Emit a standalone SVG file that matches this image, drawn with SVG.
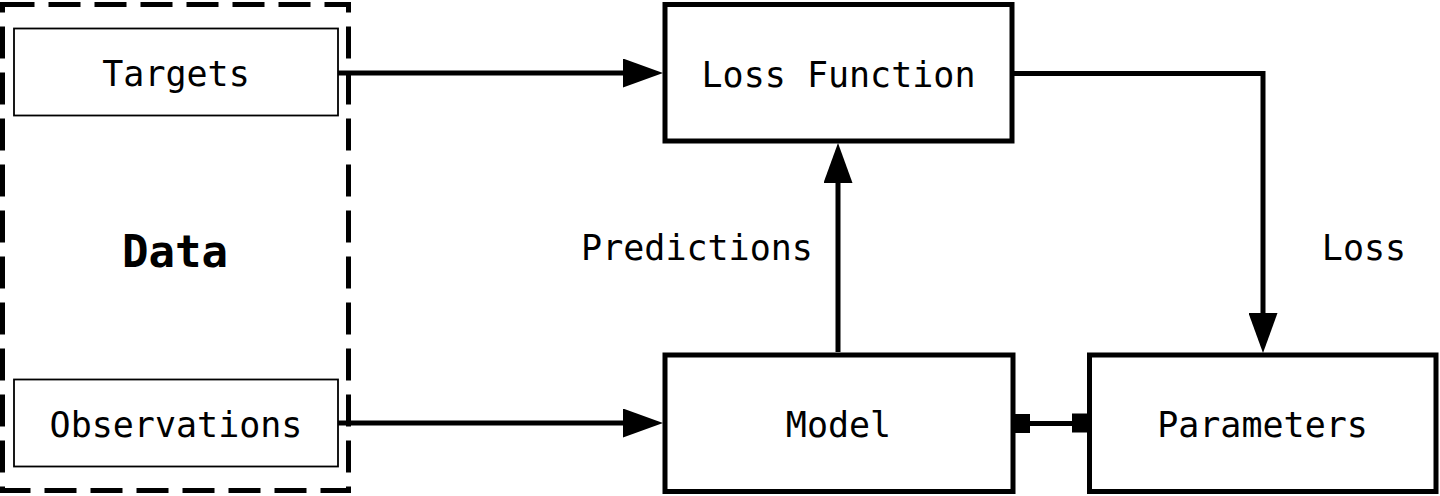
<svg xmlns="http://www.w3.org/2000/svg" width="1440" height="496" viewBox="0 0 1440 496">
  <style>
    .box { fill: #fff; stroke: #000; stroke-width: 5; }
    .thin { fill: #fff; stroke: #000; stroke-width: 1.8; }
    .dash { fill: none; stroke: #000; stroke-width: 5; stroke-dasharray: 32 14; }
    .lbl { font-family: "DejaVu Sans Mono", "Liberation Mono", monospace; font-size: 35px; fill: #000; text-anchor: middle; }
    .big { font-family: "DejaVu Sans Mono", "Liberation Mono", monospace; font-size: 44px; font-weight: bold; fill: #000; text-anchor: middle; }
    .conn { fill: none; stroke: #000; stroke-width: 5; }
  </style>
  <defs>
    <marker id="arrow" markerUnits="userSpaceOnUse" markerWidth="40" markerHeight="29" refX="5" refY="14.5" orient="auto" viewBox="0 0 40 29">
      <path d="M0,0 L40,14.5 L0,29 z" fill="#000"/>
    </marker>
  </defs>
  <rect width="1440" height="496" fill="#fff"/>

  <g id="data">
    <rect class="dash" x="2.5" y="4.5" width="346" height="486"/>
    <text class="big" x="175" y="267">Data</text>
  </g>
  <g id="targets">
    <rect class="thin" x="14" y="28.5" width="324" height="87"/>
    <text class="lbl" x="176" y="86">Targets</text>
  </g>
  <g id="observations">
    <rect class="thin" x="14" y="379.5" width="324" height="87"/>
    <text class="lbl" x="176" y="437">Observations</text>
  </g>
  <g id="loss-function">
    <rect class="box" x="665" y="4.5" width="347" height="136.5"/>
    <text class="lbl" x="838.5" y="87">Loss Function</text>
  </g>
  <g id="model">
    <rect class="box" x="665" y="355" width="348" height="136.5"/>
    <text class="lbl" x="838.5" y="437">Model</text>
  </g>
  <g id="parameters">
    <rect class="box" x="1089.5" y="355" width="346.5" height="136.5"/>
    <text class="lbl" x="1262.5" y="437">Parameters</text>
  </g>

  <g id="connectors">
    <line class="conn" x1="338" y1="73" x2="628" y2="73" marker-end="url(#arrow)"/>
    <line class="conn" x1="338" y1="423" x2="628" y2="423" marker-end="url(#arrow)"/>
    <line class="conn" x1="838" y1="352" x2="838" y2="178" marker-end="url(#arrow)"/>
    <path class="conn" d="M1012,73.5 H1263 V318" marker-end="url(#arrow)"/>
    <line class="conn" x1="1013" y1="423.5" x2="1089" y2="423.5"/>
    <rect x="1012" y="414" width="18" height="19" fill="#000"/>
    <rect x="1072" y="413.5" width="17" height="19" fill="#000"/>
    <text class="lbl" x="697" y="260">Predictions</text>
    <text class="lbl" x="1364" y="260">Loss</text>
  </g>
</svg>
